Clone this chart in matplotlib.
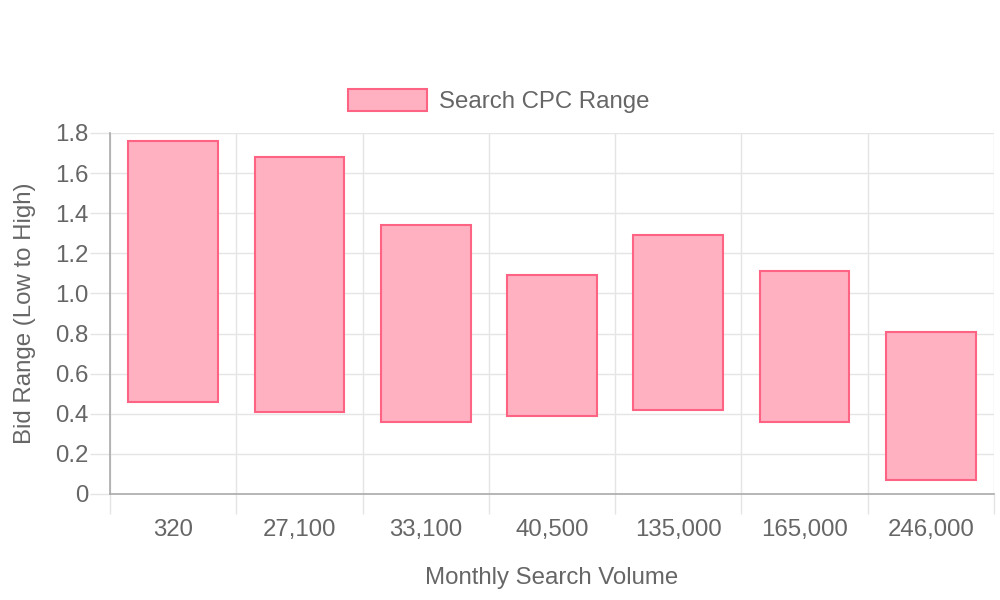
import matplotlib
matplotlib.use('Agg')
import numpy as np
from matplotlib import pyplot as plt
from matplotlib.patches import Patch

# search volumes and the low / high bid for each keyword
volumes = ['320', '27,100', '33,100', '40,500', '135,000', '165,000', '246,000']
cpc_low = [0.46, 0.41, 0.36, 0.39, 0.42, 0.36, 0.07]
cpc_high = [1.76, 1.68, 1.34, 1.09, 1.29, 1.11, 0.81]
y_ticks = [0, 0.2, 0.4, 0.6, 0.8, 1.0, 1.2, 1.4, 1.6, 1.8]
y_labels = ['0', '0.2', '0.4', '0.6', '0.8', '1.0', '1.2', '1.4', '1.6', '1.8']

plt.rcParams['font.family'] = ['Liberation Sans', 'DejaVu Sans']
txt = '#666666'
grid = '#e5e5e5'
axis_col = '#aaaaaa'
fill = '#ffb1c1'
edge = '#ff6384'
fs = 17.3

fig = plt.figure(figsize=(10, 6), dpi=100)
ax = fig.add_axes([0.110, 1 - 494 / 600, 0.884, (494 - 133) / 600])

x = np.arange(len(volumes))
heights = [h - l for l, h in zip(cpc_low, cpc_high)]
ax.bar(x, heights, bottom=cpc_low, width=0.71, color=fill, edgecolor=edge,
       linewidth=1.5, zorder=3)

ax.set_xlim(-0.5, len(volumes) - 0.5)
ax.set_ylim(0, 1.8)

ax.set_xticks(x)
ax.set_xticklabels(volumes)
ax.set_xticks(np.arange(len(volumes) + 1) - 0.5, minor=True)
ax.tick_params(axis='x', which='major', length=0, pad=18, labelsize=fs, labelcolor=txt)
ax.tick_params(axis='x', which='minor', length=14.4, width=1, color=grid)
ax.grid(axis='x', which='minor', color=grid, linewidth=1, zorder=0)

ax.set_yticks(y_ticks)
ax.set_yticklabels(y_labels)
ax.tick_params(axis='y', length=14.4, width=1, color=grid, pad=1,
               labelsize=fs, labelcolor=txt)
ax.grid(axis='y', which='major', color=grid, linewidth=1, zorder=0)

for s in ['top', 'right']:
    ax.spines[s].set_visible(False)
for s in ['left', 'bottom']:
    ax.spines[s].set_color(axis_col)
    ax.spines[s].set_linewidth(1.2)
    ax.spines[s].set_zorder(4)

ax.set_xlabel('Monthly Search Volume', fontsize=fs, color=txt, labelpad=19)
ax.set_ylabel('Bid Range (Low to High)', fontsize=fs, color=txt, labelpad=14)

handle = Patch(facecolor=fill, edgecolor=edge, linewidth=1.5)
fig.legend([handle], ['Search CPC Range'], loc='center',
           bbox_to_anchor=(0.499, 1 - 101 / 600), frameon=False, fontsize=fs,
           handlelength=3.3, handleheight=1.0, handletextpad=0.5,
           borderpad=0, labelcolor=txt)

fig.savefig('out.png', dpi=100)
